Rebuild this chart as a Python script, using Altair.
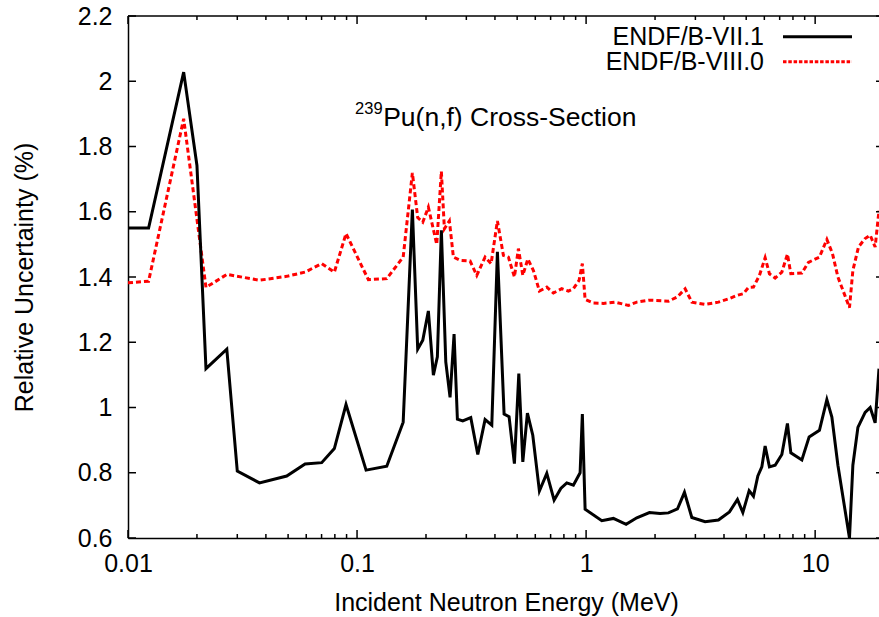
import altair as alt
import pandas as pd

FONT = "Liberation Sans"
SERIES = ["ENDF/B-VII.1", "ENDF/B-VIII.0"]
KEY_ROW = [1, 2]

# ENDF/B-VII.1 relative uncertainty of the 239Pu(n,f) cross section
energy_71 = [0.01, 0.0123, 0.0175, 0.020, 0.0219, 0.0270, 0.030, 0.0375, 0.0493,
             0.0593, 0.0701, 0.0796, 0.0895, 0.1095, 0.1348, 0.159, 0.1744, 0.184,
             0.1936, 0.2048, 0.2154, 0.2242, 0.2334, 0.244, 0.2547, 0.2652, 0.2742,
             0.2894, 0.3137, 0.3366, 0.3622, 0.3875, 0.410, 0.4385, 0.461, 0.4864,
             0.5084, 0.5293, 0.5543, 0.5851, 0.6254, 0.6736, 0.725, 0.7754, 0.8235,
             0.880, 0.9415, 0.963, 0.99, 1.171, 1.316, 1.495, 1.665, 1.89, 2.104,
             2.288, 2.505, 2.688, 2.894, 3.309, 3.782, 4.225, 4.579, 4.834, 5.15,
             5.378, 5.621, 5.851, 6.048, 6.315, 6.688, 7.155, 7.568, 7.832, 8.749,
             9.414, 10.44, 11.25, 11.83, 12.57, 14.12, 14.61, 15.37, 16.53, 17.39,
             18.28, 19.0]
unc_71 = [1.55, 1.55, 2.028, 1.742, 1.119, 1.179, 0.805, 0.769, 0.790,
          0.827, 0.831, 0.874, 1.009, 0.808, 0.820, 0.955, 1.607, 1.179,
          1.206, 1.296, 1.099, 1.155, 1.543, 1.140, 1.031, 1.225, 0.964,
          0.959, 0.969, 0.856, 0.963, 0.946, 1.477, 0.980, 0.972, 0.828,
          1.104, 0.833, 0.983, 0.915, 0.744, 0.798, 0.716, 0.752, 0.769,
          0.762, 0.800, 0.980, 0.688, 0.653, 0.660, 0.642, 0.662, 0.678, 0.675,
          0.677, 0.689, 0.740, 0.663, 0.650, 0.655, 0.680, 0.718, 0.678, 0.745,
          0.728, 0.790, 0.818, 0.882, 0.818, 0.823, 0.856, 0.951, 0.861, 0.839,
          0.910, 0.930, 1.024, 0.971, 0.823, 0.600, 0.823, 0.939, 0.985, 1.000,
          0.953, 1.119]

# ENDF/B-VIII.0 relative uncertainty of the 239Pu(n,f) cross section
energy_80 = [0.01, 0.0123, 0.0175, 0.0219, 0.0270, 0.0375, 0.0493, 0.0593, 0.0701,
             0.0796, 0.0895, 0.112, 0.1348, 0.159, 0.1744, 0.184, 0.1936, 0.2048,
             0.2228, 0.2334, 0.2406, 0.253, 0.2634, 0.2818, 0.3115, 0.3332, 0.3622,
             0.3848, 0.410, 0.4355, 0.4578, 0.4864, 0.5064, 0.5293, 0.5565, 0.5888,
             0.6254, 0.6736, 0.720, 0.783, 0.837, 0.880, 0.932, 0.963, 0.99, 1.076,
             1.19, 1.339, 1.53, 1.665, 1.89, 2.288, 2.505, 2.706, 2.894, 3.309,
             3.782, 4.225, 4.579, 4.863, 5.113, 5.378, 5.713, 6.048, 6.315, 6.688,
             7.155, 7.568, 7.832, 8.749, 9.349, 10.44, 11.25, 11.9, 12.57, 14.12,
             14.61, 15.46, 16.53, 17.39, 18.28, 19.0]
unc_80 = [1.382, 1.387, 1.885, 1.368, 1.408, 1.390, 1.402, 1.415, 1.441,
          1.415, 1.533, 1.392, 1.395, 1.461, 1.719, 1.582, 1.568, 1.614,
          1.500, 1.724, 1.548, 1.572, 1.461, 1.451, 1.449, 1.405, 1.461,
          1.441, 1.572, 1.466, 1.461, 1.400, 1.487, 1.405, 1.455, 1.420,
          1.357, 1.369, 1.351, 1.364, 1.357, 1.364, 1.390, 1.441, 1.331, 1.320,
          1.319, 1.323, 1.313, 1.323, 1.329, 1.326, 1.339, 1.364, 1.323, 1.316,
          1.323, 1.334, 1.344, 1.349, 1.368, 1.369, 1.405, 1.459, 1.410, 1.397,
          1.415, 1.470, 1.410, 1.412, 1.445, 1.461, 1.515, 1.472, 1.400, 1.306,
          1.420, 1.492, 1.518, 1.528, 1.492, 1.604]

X_MAJOR = [0.01, 0.1, 1, 10]
X_MINOR = [m * d for d in (0.01, 0.1, 1) for m in range(2, 10)]
Y_TICKS = [0.6, 0.8, 1.0, 1.2, 1.4, 1.6, 1.8, 2.0, 2.2]

ANNOT_E = [0.13]
ANNOT_U = [1.862]

W, H = 751, 522

df71 = pd.DataFrame({"energy": energy_71, "unc": unc_71, "series": SERIES[0]})
df80 = pd.DataFrame({"energy": energy_80, "unc": unc_80, "series": SERIES[1]})

xscale = alt.Scale(type="log", domain=[0.01, 19.0], nice=False)
yscale = alt.Scale(domain=[0.6, 2.2], nice=False, zero=False)

x_axis = alt.Axis(
    values=X_MAJOR, format="~g", ticks=False, grid=False,
    domain=True, domainColor="black", domainWidth=1.5,
    labelFlush=False, labelOverlap=False, labelPadding=13, labelBaseline="top",
    labelFont=FONT, labelFontSize=25, labelColor="black",
    title="Incident Neutron Energy (MeV)", titleFont=FONT, titleFontSize=25,
    titleFontWeight="normal", titleColor="black",
    titleX=378, titleY=72, titleBaseline="alphabetic",
)
y_axis = alt.Axis(
    values=Y_TICKS, format="~g", ticks=False, grid=False,
    domain=True, domainColor="black", domainWidth=1.5,
    labelPadding=16, labelFont=FONT, labelFontSize=25, labelColor="black",
    title="Relative Uncertainty (%)", titleFont=FONT, titleFontSize=25,
    titleFontWeight="normal", titleColor="black", titleAngle=270,
    titleX=-96, titleY=H / 2, titleBaseline="alphabetic",
)

line80 = alt.Chart(df80).mark_line(
    clip=True, color="#ff0000", strokeWidth=3, strokeDash=[5, 3]
).encode(
    x=alt.X("energy:Q", scale=xscale, axis=x_axis),
    y=alt.Y("unc:Q", scale=yscale, axis=y_axis),
)
line71 = alt.Chart(df71).mark_line(
    clip=True, color="#000000", strokeWidth=3
).encode(
    x=alt.X("energy:Q", scale=xscale),
    y=alt.Y("unc:Q", scale=yscale),
)


def x_ticks(values, y0, y1):
    return alt.Chart(pd.DataFrame({"t": values})).mark_rule(
        color="black", strokeWidth=1.5
    ).encode(x=alt.X("t:Q", scale=xscale), y=alt.value(y0), y2=alt.value(y1))


def y_ticks(values, x0, x1):
    return alt.Chart(pd.DataFrame({"t": values})).mark_rule(
        color="black", strokeWidth=1.5
    ).encode(y=alt.Y("t:Q", scale=yscale), x=alt.value(x0), x2=alt.value(x1))


top_border = alt.Chart(pd.DataFrame({"t": [0]})).mark_rule(
    color="black", strokeWidth=1.5
).encode(x=alt.value(0), x2=alt.value(W), y=alt.value(0))

annot = pd.DataFrame({"energy": ANNOT_E, "unc": ANNOT_U,
                      "iso": ["239"], "txt": ["Pu(n,f) Cross-Section"]})
annot_main = alt.Chart(annot).mark_text(
    align="left", baseline="alphabetic", font=FONT, fontSize=26.5, color="black"
).encode(x=alt.X("energy:Q", scale=xscale), y=alt.Y("unc:Q", scale=yscale),
         text="txt:N")
annot_sup = alt.Chart(annot).mark_text(
    align="right", baseline="alphabetic", font=FONT, fontSize=16.5, color="black",
    dx=-0.5, dy=-12
).encode(x=alt.X("energy:Q", scale=xscale), y=alt.Y("unc:Q", scale=yscale),
         text="iso:N")

plot = alt.layer(
    line80, line71,
    x_ticks(X_MAJOR, H, H - 8), x_ticks(X_MINOR, H, H - 4),
    x_ticks(X_MAJOR, 0, 8), x_ticks(X_MINOR, 0, 4),
    y_ticks(Y_TICKS, 0, 8), y_ticks(Y_TICKS, W - 3, W),
    top_border, annot_main, annot_sup,
)

# key in the upper right: label first, line sample after it
key_df = pd.DataFrame({"series": SERIES, "row": KEY_ROW})
key_y = alt.Y("row:Q", scale=alt.Scale(domain=[1, 2], range=[20.7, 45.7]), axis=None)
key_text = alt.Chart(key_df).mark_text(
    align="right", baseline="alphabetic", font=FONT, fontSize=25, color="black", dy=8
).encode(x=alt.value(636), y=key_y, text="series:N")
key_line = alt.Chart(key_df).mark_rule(strokeWidth=3).encode(
    x=alt.value(655), x2=alt.value(724), y=key_y,
    color=alt.Color("series:N", scale=alt.Scale(domain=SERIES, range=["#000000", "#ff0000"]),
                    legend=None),
    strokeDash=alt.StrokeDash("series:N", scale=alt.Scale(domain=SERIES, range=[[1, 0], [3.5, 1.8]]),
                              legend=None),
)
key = alt.layer(key_text, key_line)

chart = alt.layer(plot, key).resolve_scale(y="independent").properties(
    width=W, height=H,
    autosize=alt.AutoSizeParams(type="none"),
    padding={"left": 128, "top": 16, "right": 0, "bottom": 79},
    background="white",
).configure_view(stroke=None)

chart.save("out.html", embed_options={"renderer": "svg", "actions": False})
